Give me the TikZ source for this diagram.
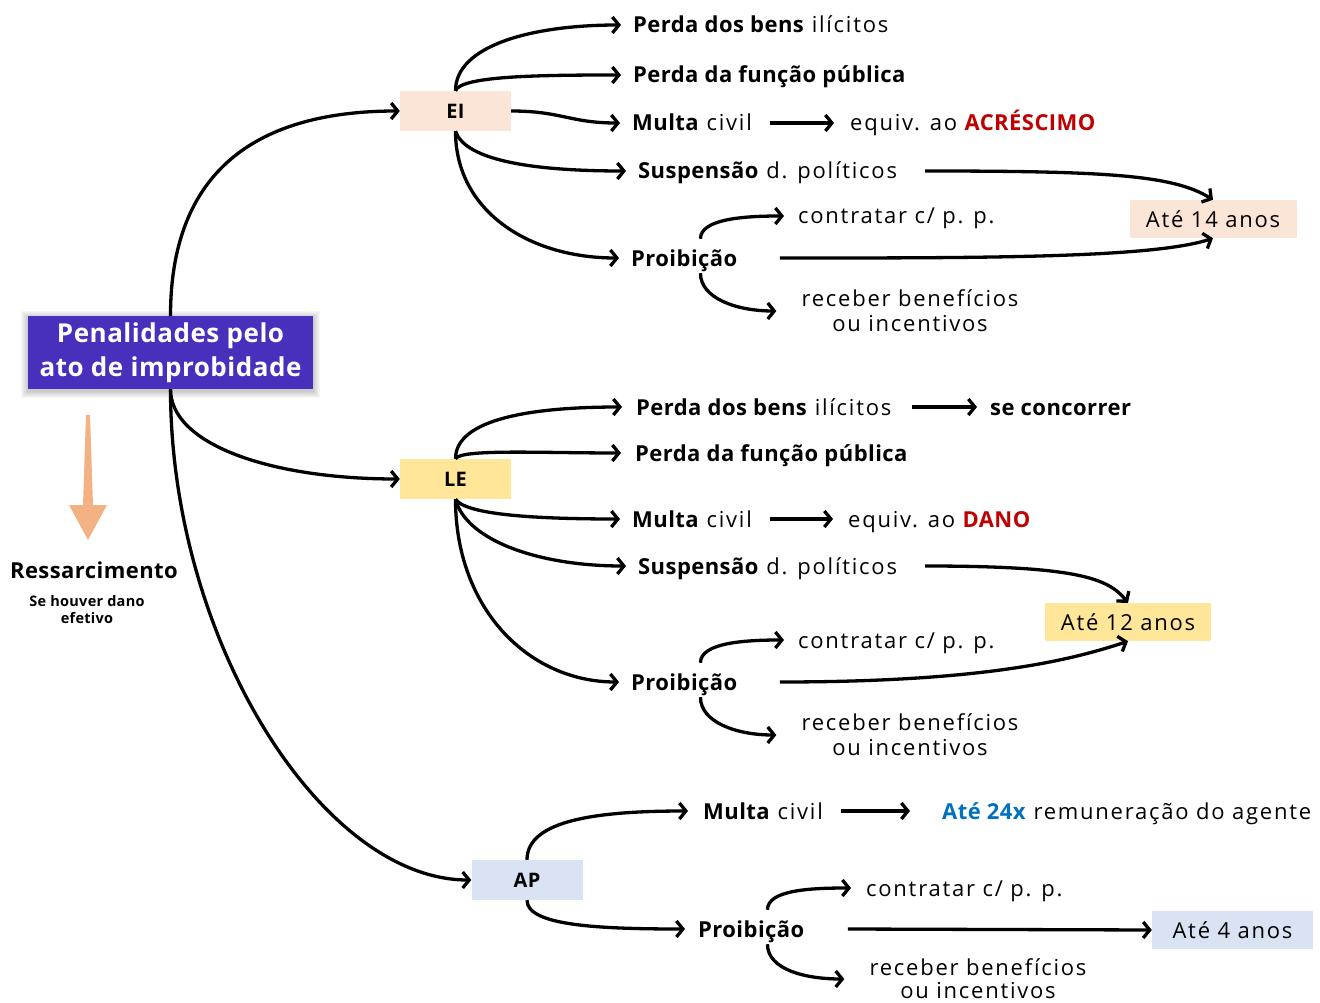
\documentclass[tikz,border=0pt]{standalone}
\usepackage{fontspec}
\setmainfont{Open Sans}[UprightFeatures={LetterSpace=8},BoldFeatures={LetterSpace=2}]
\usetikzlibrary{arrows.meta}
\definecolor{titleC}{HTML}{4A2FBD}
\definecolor{eiC}{HTML}{FBE5D6}
\definecolor{leC}{HTML}{FFE699}
\definecolor{apC}{HTML}{DAE3F3}
\definecolor{redC}{HTML}{C00000}
\definecolor{blueC}{HTML}{0070C0}
\definecolor{orC}{HTML}{F4B183}
\begin{document}
\begin{tikzpicture}[x=1pt,y=-1pt,
  arr/.style={line width=3.3pt,-{Straight Barb[length=6.5pt,width=16pt]}},
  lbl/.style={inner sep=0pt,anchor=west,font=\fontsize{22}{26}\selectfont,text height=19pt,text depth=3pt},
  ml/.style={inner sep=0pt,align=center,font=\fontsize{22}{25}\selectfont},
  box/.style={minimum width=111pt,minimum height=40pt,inner sep=0pt,font=\bfseries\fontsize{20}{22}\selectfont},
  yrs/.style={minimum width=167pt,minimum height=38pt,inner sep=0pt,font=\fontsize{22}{26}\selectfont}]
\useasboundingbox (0,0) rectangle (1320,1003);

% title with soft shadow
\foreach \i in {1,...,7}
  \fill[black,opacity=0.03] (28-\i,316-\i+2) rectangle (313+\i,389+\i+2);
\node[fill=titleC,minimum width=285pt,minimum height=73pt,inner sep=0pt,text=white,align=center,
  font=\bfseries\fontsize{26}{34}\selectfont] (title) at (170.5,352.5) {Penalidades pelo\\ato de improbidade};

% Ressarcimento
\fill[orC] (86,415) -- (90,415) -- (93,505) -- (107,505) -- (88,540) -- (69,505) -- (83,505) -- cycle;
\node[inner sep=0pt,font=\bfseries\fontsize{22}{26}\selectfont] (res) at (94,570) {Ressarcimento};
\node[inner sep=0pt,align=center,font=\bfseries\fontsize{14.5}{17}\selectfont] (res2) at (87,610) {Se houver dano\\efetivo};

% ---------- EI ----------
\node[box,fill=eiC] (ei) at (455.5,111) {EI};
\node[lbl] (ei1) at (633,25) {\textbf{Perda dos bens} ilícitos};
\node[lbl] (ei2) at (633,75) {\textbf{Perda da função pública}};
\node[lbl] (ei3) at (632,123) {\textbf{Multa} civil};
\node[lbl] (ei3r) at (850,123) {equiv. ao \textcolor{redC}{\textbf{ACRÉSCIMO}}};
\node[lbl] (ei4) at (638,171) {\textbf{Suspensão} d. políticos};
\node[lbl] (ei5) at (631,258) {\textbf{Proibição}};
\node[lbl] (ei5a) at (798,216) {contratar c/ p. p.};
\node[ml] (ei5b) at (910,311) {receber benefícios\\ou incentivos};
\node[yrs,fill=eiC] (ei14) at (1213,219) {Até 14 anos};

\draw[arr] (title.north) .. controls +(0,-125) and +(-165,0) .. (ei.west);
\draw[arr] (ei.north) .. controls +(0,-45) and +(-90,0) .. ([xshift=-12pt]ei1.west);
\draw[arr] (ei.north) .. controls +(5,-15) and +(-80,0) .. ([xshift=-12pt]ei2.west);
\draw[arr] (ei.east) .. controls +(50,0) and +(-50,0) .. ([xshift=-12pt]ei3.west);
\draw[arr] ([xshift=18pt]ei3.east) -- ([xshift=-16pt]ei3r.west);
\draw[arr] (ei.south) .. controls +(10,30) and +(-90,0) .. ([xshift=-12pt]ei4.west);
\draw[arr] (ei.south) .. controls +(0,80) and +(-90,0) .. ([xshift=-12pt]ei5.west);
\draw[arr] ([xshift=28pt]ei4.east) .. controls +(180,0) and +(-40,-25) .. (ei14.north);
\draw[arr] ([xshift=42pt]ei5.east) .. controls +(200,0) and +(-60,20) .. (ei14.south);
\draw[arr] ([xshift=16pt,yshift=8pt]ei5.north) .. controls +(0,-20) and +(-40,0) .. ([xshift=-14pt]ei5a.west);
\draw[arr] ([xshift=16pt,yshift=-4pt]ei5.south) .. controls +(0,25) and +(-40,0) .. ([xshift=-25pt]ei5b.west);

% ---------- LE ----------
\node[box,fill=leC] (le) at (455.5,479) {LE};
\node[lbl] (le1) at (636,407) {\textbf{Perda dos bens} ilícitos};
\node[lbl] (le1r) at (990,407) {\textbf{se concorrer}};
\node[lbl] (le2) at (635,453) {\textbf{Perda da função pública}};
\node[lbl] (le3) at (632,519) {\textbf{Multa} civil};
\node[lbl] (le3r) at (848,519) {equiv. ao \textcolor{redC}{\textbf{DANO}}};
\node[lbl] (le4) at (638,566) {\textbf{Suspensão} d. políticos};
\node[lbl] (le5) at (631,682) {\textbf{Proibição}};
\node[lbl] (le5a) at (798,640) {contratar c/ p. p.};
\node[ml] (le5b) at (910,735) {receber benefícios\\ou incentivos};
\node[yrs,fill=leC,minimum width=166pt] (le12) at (1128,622) {Até 12 anos};

\draw[arr] (title.south) .. controls +(0,55) and +(-130,0) .. (le.west);
\draw[arr] (le.north) .. controls +(0,-40) and +(-90,0) .. ([xshift=-14pt]le1.west);
\draw[arr] ([xshift=20pt]le1.east) -- ([xshift=-13pt]le1r.west);
\draw[arr] (le.north) .. controls +(5,-10) and +(-80,0) .. ([xshift=-14pt]le2.west);
\draw[arr] (le.south) .. controls +(10,15) and +(-90,0) .. ([xshift=-12pt]le3.west);
\draw[arr] ([xshift=18pt]le3.east) -- ([xshift=-15pt]le3r.west);
\draw[arr] (le.south) .. controls +(10,40) and +(-90,0) .. ([xshift=-12pt]le4.west);
\draw[arr] (le.south) .. controls +(0,110) and +(-90,0) .. ([xshift=-12pt]le5.west);
\draw[arr] ([xshift=28pt]le4.east) .. controls +(150,0) and +(-20,-25) .. (le12.north);
\draw[arr] ([xshift=42pt]le5.east) .. controls +(200,0) and +(-60,20) .. (le12.south);
\draw[arr] ([xshift=16pt,yshift=8pt]le5.north) .. controls +(0,-20) and +(-40,0) .. ([xshift=-14pt]le5a.west);
\draw[arr] ([xshift=16pt,yshift=-4pt]le5.south) .. controls +(0,25) and +(-40,0) .. ([xshift=-25pt]le5b.west);

% ---------- AP ----------
\node[box,fill=apC] (ap) at (527,880) {AP};
\node[lbl] (ap1) at (703,811) {\textbf{Multa} civil};
\node[lbl] (ap1r) at (942,811) {\textcolor{blueC}{\textbf{Até 24x}} remuneração do agente};
\node[lbl] (ap2) at (698,929) {\textbf{Proibição}};
\node[lbl] (ap2a) at (866,888) {contratar c/ p. p.};
\node[ml,font=\fontsize{22}{23}\selectfont] (ap2b) at (978,979) {receber benefícios\\ou incentivos};
\node[yrs,fill=apC,minimum width=161pt] (ap4) at (1232.5,930) {Até 4 anos};

\draw[arr] (title.south) .. controls +(0,250) and +(-150,0) .. (ap.west);
\draw[arr] (ap.north) .. controls +(0,-40) and +(-90,0) .. ([xshift=-15pt]ap1.west);
\draw[arr] ([xshift=18pt]ap1.east) -- ([xshift=-32pt]ap1r.west);
\draw[arr] (ap.south) .. controls +(0,25) and +(-90,0) .. ([xshift=-13pt]ap2.west);
\draw[arr] ([xshift=43pt]ap2.east) -- (ap4.west);
\draw[arr] ([xshift=16pt,yshift=8pt]ap2.north) .. controls +(0,-20) and +(-40,0) .. ([xshift=-15pt]ap2a.west);
\draw[arr] ([xshift=16pt,yshift=-4pt]ap2.south) .. controls +(0,25) and +(-40,0) .. ([xshift=-25pt]ap2b.west);
\end{tikzpicture}
\end{document}
